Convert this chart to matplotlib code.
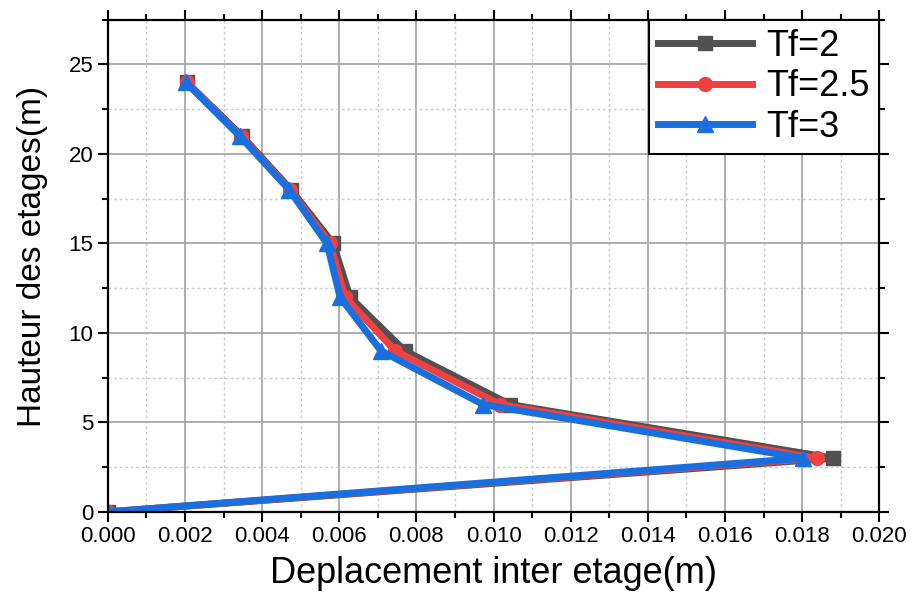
import numpy as np
import matplotlib.pyplot as plt
from matplotlib.ticker import MultipleLocator, FormatStrFormatter

plt.rcParams['font.family'] = ['Liberation Sans', 'DejaVu Sans']

# hauteur des etages (m)
hauteur = [0, 3, 6, 9, 12, 15, 18, 21, 24]

# deplacement inter etage (m)
dep_tf2 = [0.0, 0.01881, 0.01043, 0.00770, 0.00628, 0.00584, 0.00475, 0.00348, 0.00205]
dep_tf25 = [0.0, 0.01839, 0.01017, 0.00745, 0.00615, 0.00576, 0.00472, 0.00345, 0.00205]
dep_tf3 = [0.0, 0.01803, 0.00973, 0.00708, 0.00602, 0.00568, 0.00470, 0.00342, 0.00202]

labels = ["Tf=2", "Tf=2.5", "Tf=3"]

fig = plt.figure(figsize=(9.14, 5.98), dpi=100)
ax = fig.add_axes([0.118, 0.144, 0.844, 0.823])

ax.plot(dep_tf2, hauteur, color="#515151", lw=5, marker='s', markersize=10, label=labels[0])
ax.plot(dep_tf25, hauteur, color="#F14040", lw=5, marker='o', markersize=10, label=labels[1])
ax.plot(dep_tf3, hauteur, color="#1A6FDF", lw=5, marker='^', markersize=11, label=labels[2])

ax.set_xlim(0, 0.020)
ax.set_ylim(0, 27.5)
ax.xaxis.set_major_locator(MultipleLocator(0.002))
ax.xaxis.set_minor_locator(MultipleLocator(0.001))
ax.yaxis.set_major_locator(MultipleLocator(5))
ax.yaxis.set_minor_locator(MultipleLocator(2.5))
ax.xaxis.set_major_formatter(FormatStrFormatter('%.3f'))

ax.grid(which='major', color='#a8a8a8', lw=1.3, ls='-')
ax.grid(which='minor', color='#cccccc', lw=1.0, ls=(0, (2, 2)))
ax.set_axisbelow(True)

for s in ax.spines.values():
    s.set_linewidth(1.6)
    s.set_color('black')

ax.tick_params(which='both', direction='out', top=True, right=True, width=1.5)
ax.tick_params(which='major', length=7, labelsize=16)
ax.tick_params(which='minor', length=4)

ax.set_xlabel("Deplacement inter etage(m)", fontsize=26, labelpad=6)
ax.set_ylabel("Hauteur des etages(m)", fontsize=24)
ax.yaxis.set_label_coords(-0.078, 0.52)

leg = ax.legend(loc='upper right', fontsize=26, borderaxespad=0, handlelength=2.6,
                handletextpad=0.4, labelspacing=0.15, borderpad=0.25, fancybox=False)
leg.get_frame().set_edgecolor('black')
leg.get_frame().set_linewidth(1.5)
leg.get_frame().set_alpha(1)

plt.savefig("out.png", dpi=100)
